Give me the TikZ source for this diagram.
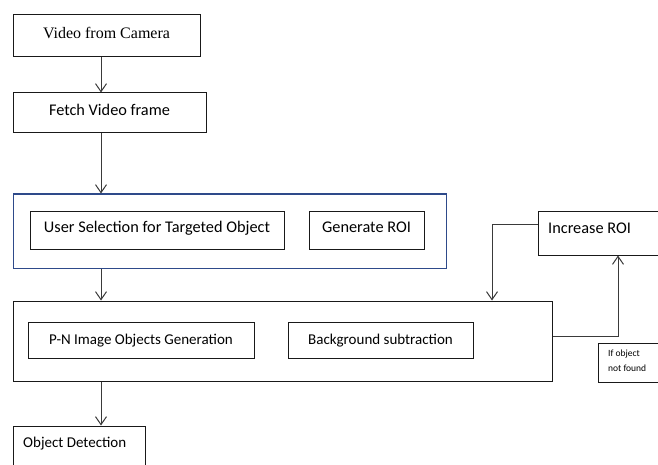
\documentclass[tikz,border=0pt]{standalone}
\usepackage{fontspec}
\setmainfont{Carlito}
\newfontfamily\serifface{Liberation Serif}
\usetikzlibrary{arrows.meta}
\definecolor{linegray}{HTML}{3A3A3A}
\definecolor{groupblue}{HTML}{2E4A8A}
\tikzset{
  box/.style={draw=black!90, line width=1pt, rectangle, inner sep=0pt,
              text height=11pt, text depth=6pt, font=\fontsize{15}{18}\selectfont},
  lowtext/.style={text height=11pt, text depth=3pt},
  bigtext/.style={font=\fontsize{16.3}{19}\selectfont},
  arr/.style={draw=linegray, line width=1pt, -{Straight Barb[length=8pt,width=11pt]}},
}
\begin{document}
\begin{tikzpicture}[x=1pt,y=-1pt]
\useasboundingbox (0,0) rectangle (658,465);
\clip (0,0) rectangle (658,465);
\fill[white] (0,0) rectangle (658,465);

% vertical axis of the main flow
\coordinate (ax) at (101,0);

% top of the flow
\node[box, minimum width=187pt, minimum height=42pt, font=\serifface\fontsize{16}{19}\selectfont]
  (cam) at (106.5,36) {Video from Camera};
\node[box, bigtext, minimum width=193pt, minimum height=40pt] (fetch) at (109.5,113) {Fetch Video frame};

% selection group
\node[box, draw=groupblue, minimum width=433pt, minimum height=74pt] (grp) at (229.5,231) {};
\node[box, bigtext, minimum width=254pt, minimum height=38pt] (sel) at (157,230) {User Selection for Targeted Object};
\node[box, bigtext, minimum width=115pt, minimum height=38pt] (roi) at (366.5,230) {Generate ROI};

% processing group
\node[box, minimum width=539pt, minimum height=80pt] (big) at (282.5,341) {};
\node[box, lowtext, minimum width=226pt, minimum height=36pt] (pn) at (141,340) {P-N Image Objects Generation};
\node[box, lowtext, minimum width=185pt, minimum height=36pt] (bg) at (380.5,340) {Background subtraction};

% feedback loop
\node[box, minimum width=142pt, minimum height=44pt] (inc) at (609,233) {};
\node[anchor=west, inner sep=0pt, bigtext] (inctext) at (548,228) {Increase ROI};
\node[box, minimum width=82pt, minimum height=39pt] (nf) at (639,362.5) {};
\node[anchor=north west, inner sep=0pt, align=left, font=\fontsize{9.5}{15}\selectfont] (nftext) at (608,350) {If object\\not found};

% result
\node[box, minimum width=132pt, minimum height=54pt] (od) at (79,453) {};
\node[anchor=west, inner sep=0pt, font=\fontsize{15}{18}\selectfont] (odtext) at (23,444) {Object Detection};

% connectors
\draw[arr] (cam.south -| ax) -- (fetch.north -| ax);
\draw[arr] (fetch.south -| ax) -- (grp.north -| ax);
\draw[arr] (grp.south -| ax) -- (big.north -| ax);
\draw[arr] (big.south -| ax) -- (od.north -| ax);

\coordinate (down) at (492,0);
\coordinate (up) at (618,0);
\draw[arr] ([yshift=9pt]inc.west) -| (big.north -| down);
\draw[arr] ([yshift=5pt]big.east) -| (inc.south -| up);
\end{tikzpicture}
\end{document}
